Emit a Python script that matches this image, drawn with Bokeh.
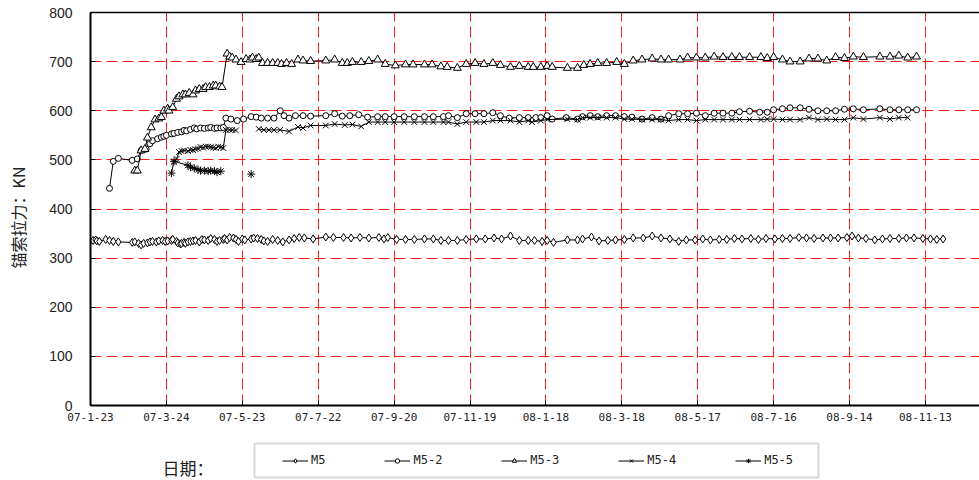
import math
import pandas as pd
from bokeh.plotting import figure
from bokeh.models import FixedTicker, Legend, LegendItem, Label, BoxAnnotation, LinearAxis, Grid
from bokeh.embed import file_html
from bokeh.resources import INLINE

nan = float("nan")

# ---------------- data ----------------
base_date = "2007-01-23"
tick_labels = ["07-1-23", "07-3-24", "07-5-23", "07-7-22", "07-9-20", "07-11-19",
               "08-1-18", "08-3-18", "08-5-17", "08-7-16", "08-9-14", "08-11-13"]
y_ticks = [0, 100, 200, 300, 400, 500, 600, 700, 800]

# days after 2007-01-23
m5_day = [2, 4, 5, 7, 12, 15, 18, 22, 33, 35, 38, 40, 42, 45, 47, 49, 52, 54, 57, 59,
          61, 64, 65, 68, 69, 71, 72, 74, 75, 77, 79, 81, 83, 86, 88, 90, 93, 95, 98, 100,
          102, 105, 106, 108, 110, 113, 115, 117, 120, 122, 127, 129, 132, 135, 137, 140, 144, 148, 152, 157,
          161, 165, 169, 176, 186, 192, 200, 206, 213, 220, 228, 232, 235, 242, 249, 256, 264, 271, 277, 283,
          290, 297, 305, 312, 319, 325, 332, 339, 346, 351, 357, 361, 366, 377, 385, 389, 396, 402, 409, 415,
          422, 429, 437, 444, 451, 458, 465, 471, 478, 484, 490, 497, 503, 509, 515, 522, 528, 534, 541, 547,
          553, 560, 566, 572, 579, 585, 591, 598, 602, 607, 613, 620, 626, 632, 639, 645, 651, 658, 664, 669,
          674]
m5_kn = [336, 337, 335, 334, 338, 336, 334, 333, 332, 333, 330, 327, 330, 331, 333, 334, 333, 335, 336, 334,
         335, 336, 338, 334, 331, 329, 330, 332, 330, 333, 334, 335, 336, 333, 338, 337, 336, 340, 338, 334,
         336, 338, 340, 337, 342, 341, 338, 334, 339, 337, 339, 341, 340, 338, 335, 334, 338, 336, 333, 337,
         340, 342, 341, 339, 343, 342, 342, 341, 342, 341, 342, 339, 342, 338, 338, 338, 339, 339, 336, 336,
         336, 338, 339, 339, 341, 339, 345, 336, 336, 336, 334, 336, 332, 337, 337, 339, 343, 335, 336, 337,
         338, 341, 341, 345, 341, 339, 334, 337, 337, 339, 337, 338, 338, 340, 339, 340, 338, 340, 339, 340,
         340, 342, 341, 340, 341, 341, 341, 342, 345, 341, 340, 337, 339, 340, 340, 341, 341, 340, 339, 338,
         339]

m5_2_day = [15, 18, 22, 33, 37, 40, 44, 47, 49, 53, 56, 58, 60, 64, 66, 69, 72, 74, 76, 79,
            82, 84, 87, 90, 93, 95, 98, 100, 103, 105, 107, 111, 116, 121, 127, 131, 135, 140, 145, 150,
            153, 157, 162, 168, 174, 186, 193, 199, 205, 212, 219, 227, 233, 240, 248, 256, 264, 271, 279, 283,
            290, 297, 304, 311, 318, 324, 331, 339, 346, 352, 356, 361, 365, 376, 385, 389, 395, 401, 408, 415,
            422, 428, 436, 444, 451, 457, 465, 472, 479, 486, 493, 500, 507, 513, 521, 529, 535, 540, 547, 553,
            561, 568, 575, 582, 589, 596, 603, 611, 624, 632, 639, 646, 653]
m5_2_kn = [442, 497, 503, 499, 502, 519, 522, 533, 539, 543, 546, 548, 550, 553, 554, 556, 557, 560, 559, 562,
           565, 563, 565, 564, 565, 566, 564, 565, 565, 566, 585, 583, 580, 583, 588, 587, 585, 585, 585, 600,
           590, 585, 590, 590, 589, 590, 594, 589, 590, 592, 587, 588, 588, 588, 588, 588, 588, 588, 588, 590,
           586, 594, 594, 594, 596, 590, 585, 586, 586, 586, 586, 590, 583, 586, 583, 588, 590, 588, 590, 590,
           588, 587, 583, 586, 583, 590, 594, 594, 595, 590, 595, 595, 595, 598, 599, 597, 597, 602, 604, 606,
           606, 603, 600, 600, 600, 603, 604, 602, 604, 602, 602, 602, 602]

m5_3_day = [35, 37, 40, 43, 45, 48, 51, 54, 56, 58, 61, 62, 65, 68, 70, 73, 75, 78, 81, 83,
            86, 89, 91, 94, 97, 99, 102, 104, 108, 110, 112, 115, 119, 123, 126, 128, 131, 133, 136, 140,
            144, 148, 151, 155, 159, 164, 168, 174, 186, 193, 199, 203, 207, 214, 220, 227, 233, 241, 249, 255,
            264, 270, 277, 282, 290, 297, 304, 311, 318, 324, 332, 339, 346, 350, 356, 361, 365, 377, 385, 390,
            395, 401, 408, 416, 422, 429, 436, 444, 451, 457, 466, 472, 479, 486, 493, 500, 507, 513, 521, 530,
            535, 540, 547, 553, 561, 568, 575, 582, 589, 596, 603, 611, 624, 632, 639, 646, 653]
m5_3_kn = [478, 478, 519, 522, 545, 566, 582, 584, 587, 600, 604, 600, 607, 624, 629, 633, 633, 636, 633, 641,
           644, 644, 648, 648, 651, 651, 649, 648, 716, 710, 708, 704, 699, 705, 704, 708, 705, 708, 697, 697,
           697, 697, 695, 697, 695, 704, 702, 701, 702, 704, 697, 697, 699, 699, 701, 704, 695, 692, 694, 694,
           694, 694, 690, 689, 687, 695, 697, 695, 697, 693, 689, 691, 689, 689, 689, 691, 689, 687, 687, 693,
           695, 697, 697, 699, 695, 702, 704, 706, 704, 704, 704, 708, 708, 708, 710, 709, 709, 709, 709, 709,
           707, 709, 704, 700, 700, 706, 706, 702, 709, 707, 710, 709, 710, 710, 712, 708, 710]

m5_4_day = [66, 68, 70, 72, 74, 77, 79, 81, 83, 85, 87, 89, 91, 93, 95, 97, 99, 101, 103, 105,
            107, 110, 112, 115, 124, 133, 137, 141, 145, 150, 157, 164, 168, 174, 186, 193, 201, 207, 214, 220,
            227, 233, 240, 248, 256, 264, 271, 279, 283, 290, 297, 305, 311, 318, 324, 332, 339, 346, 349, 356,
            361, 377, 385, 389, 395, 401, 408, 415, 422, 428, 436, 444, 451, 457, 465, 472, 479, 486, 493, 500,
            507, 513, 521, 530, 535, 540, 547, 553, 561, 568, 575, 582, 589, 596, 603, 611, 624, 632, 639, 646]
m5_4_kn = [495, 502, 516, 518, 519, 518, 520, 520, 522, 523, 526, 525, 527, 527, 526, 525, 524, 527, 526, 524,
           561, 561, 561, 560, nan, 563, 561, 561, 561, 561, 558, 567, 565, 570, 570, 573, 571, 572, 568, 577,
           577, 577, 577, 577, 577, 577, 577, 577, 577, 573, 577, 577, 577, 580, 580, 580, 577, 580, 577, 580,
           582, 583, 582, 586, 586, 586, 586, 586, 583, 583, 582, 582, 582, 580, 582, 582, 580, 582, 582, 582,
           582, 582, 582, 582, 583, 583, 582, 582, 582, 586, 582, 583, 582, 582, 586, 583, 586, 583, 586, 586]

m5_5_day = [64, 66, 77, 79, 82, 85, 87, 90, 93, 95, 98, 100, 103, 115, 127]
m5_5_kn = [473, 497, 489, 485, 483, 480, 478, 478, 477, 478, 477, 475, 477, nan, 471]

series_names = ["M5", "M5-2", "M5-3", "M5-4", "M5-5"]
series_days = [m5_day, m5_2_day, m5_3_day, m5_4_day, m5_5_day]
series_kn = [m5_kn, m5_2_kn, m5_3_kn, m5_4_kn, m5_5_kn]
series_markers = ["diamond", "circle", "triangle", "x", "asterisk"]
series_sizes = [8, 6, 8, 8, 8]

x_axis_title = "日期："
y_axis_title = "锚索拉力：KN"
y_max = 800

# ---------------- layout helpers (pixels -> data) ----------------
W, H = 979, 480
FL, FT, FBOT = 90, 12, 405          # plot area edges in window pixels
px_per_day = 1.265
px_per_kn = (FBOT - FT) / y_max


def dx(px):
    return (px - FL) / px_per_day


def vy(py):
    return (FBOT - py) / px_per_kn


base = pd.Timestamp(base_date)
tick_days = [(pd.Timestamp("20" + t) - base).days for t in tick_labels]
x_end = dx(W)

# the frame covers the whole canvas; axes are pinned at 0
p = figure(width=W, height=H, x_range=(dx(0), dx(W)), y_range=(vy(H), vy(0)),
           output_backend="svg", toolbar_location=None,
           min_border=0, min_border_left=0, min_border_right=0, min_border_top=0, min_border_bottom=0,
           outline_line_color=None, background_fill_color="white", border_fill_color="white",
           x_axis_type=None, y_axis_type=None)

# grids (limited to the plot area)
xgrid = Grid(dimension=0, ticker=FixedTicker(ticks=tick_days), bounds=(0, x_end),
             cross_bounds=(0, y_max))
ygrid = Grid(dimension=1, ticker=FixedTicker(ticks=y_ticks), bounds=(0, y_max),
             cross_bounds=(0, x_end))
for g in (xgrid, ygrid):
    g.grid_line_color = "#ff0000"
    g.grid_line_dash = "11 5"
    g.grid_line_width = 1
    g.grid_line_alpha = 0.9
    p.add_layout(g)

# axes
xaxis = LinearAxis(fixed_location=0, bounds=(0, x_end), ticker=FixedTicker(ticks=tick_days),
                   major_label_overrides={d: t for d, t in zip(tick_days, tick_labels)})
yaxis = LinearAxis(fixed_location=0, bounds=(0, y_max), ticker=FixedTicker(ticks=y_ticks))
topaxis = LinearAxis(fixed_location=y_max, bounds=(0, x_end), ticker=FixedTicker(ticks=[]),
                     major_tick_line_color=None, minor_tick_line_color=None,
                     major_label_text_font_size="0px", axis_line_color="black", axis_line_width=1.5)
for ax in (xaxis, yaxis):
    ax.axis_line_color = "black"
    ax.axis_line_width = 2
    ax.major_tick_in = 5
    ax.major_tick_out = 0
    ax.major_tick_line_color = "black"
    ax.minor_tick_line_color = None
    ax.major_label_text_color = "#222222"
xaxis.major_label_text_font = "DejaVu Sans Mono"
xaxis.major_label_text_font_size = "11px"
xaxis.major_label_standoff = 7
yaxis.major_label_text_font = "Liberation Sans"
yaxis.major_label_text_font_size = "14px"
yaxis.major_label_standoff = 18
p.add_layout(xaxis, "below")
p.add_layout(yaxis, "left")
p.add_layout(topaxis, "above")

items = []
for name, xs, ys, mk, sz in zip(series_names, series_days, series_kn, series_markers, series_sizes):
    ln = p.line(xs, ys, line_color="black", line_width=1)
    sc = p.scatter(xs, ys, marker=mk, size=sz, line_color="black", line_width=1,
                   fill_color="white")
    items.append(LegendItem(label=name, renderers=[ln, sc]))

# legend box
box = BoxAnnotation(left=dx(254), right=dx(818), top=vy(443), bottom=vy(477),
                    fill_color="white", fill_alpha=1, line_color="#808080", line_width=2)
p.add_layout(box)

legend = Legend(items=items, orientation="horizontal", location=(282, 12),
                padding=8, margin=0, spacing=59, glyph_width=26, glyph_height=11,
                label_height=16, label_width=10, label_standoff=3,
                label_text_font="DejaVu Sans Mono", label_text_font_size="12px",
                label_text_color="#222222",
                border_line_color=None, background_fill_alpha=0)
p.add_layout(legend)

p.add_layout(Label(x=dx(162), y=vy(467), text=x_axis_title, text_baseline="middle",
                   text_font="Noto Sans CJK SC", text_font_size="17px",
                   text_color="#222222"))
p.add_layout(Label(x=dx(17), y=vy(217), text=y_axis_title, text_baseline="middle",
                   text_align="center", angle=math.pi / 2,
                   text_font="Noto Sans CJK SC", text_font_size="16px",
                   text_color="#222222"))

open("out.html", "w").write(file_html(p, INLINE))
